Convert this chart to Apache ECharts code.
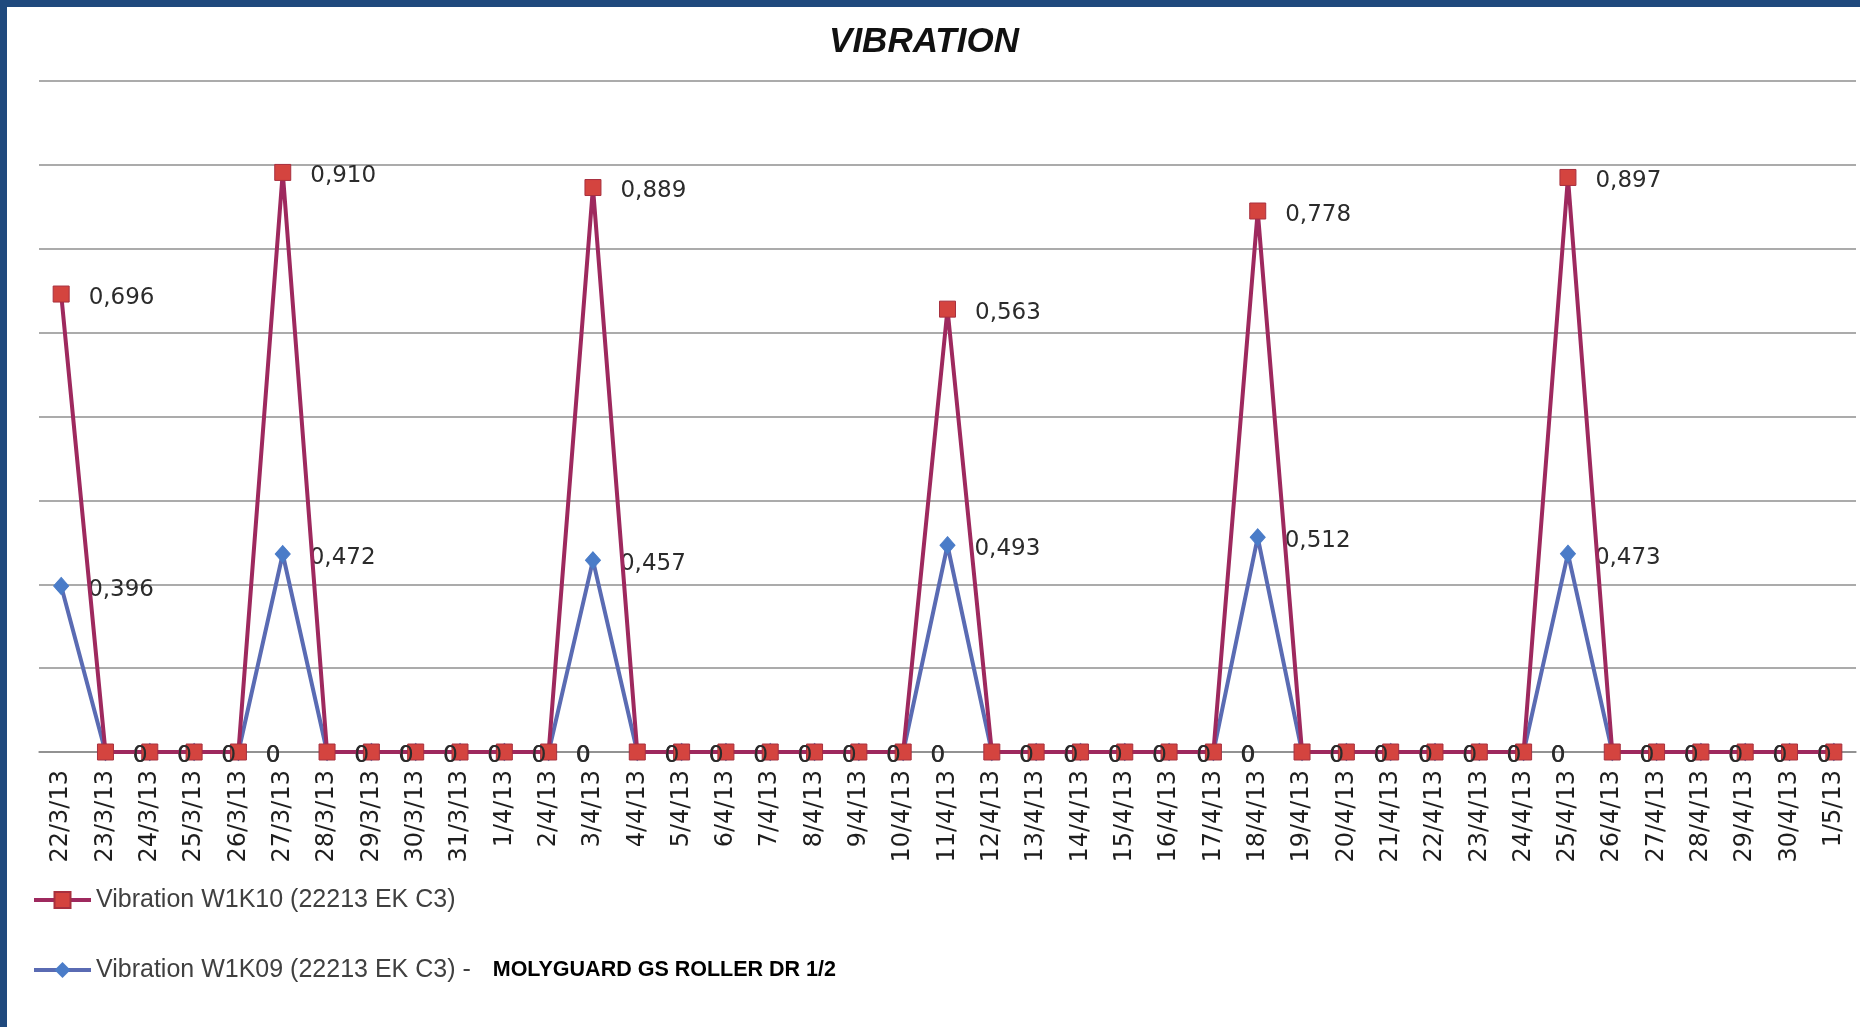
<!DOCTYPE html>
<html>
<head>
<meta charset="utf-8">
<script src="https://cdn.jsdelivr.net/npm/echarts@6/dist/echarts.min.js"></script>
<style>
  html, body { margin: 0; padding: 0; width: 1860px; height: 1027px; background: #1f497d; overflow: hidden; }
  #chart { position: absolute; left: 7px; top: 7px; width: 1853px; height: 1020px; background: #ffffff; }
</style>
</head>
<body>
<div id="chart"></div>
<script>
const categories = [
  '22/3/13','23/3/13','24/3/13','25/3/13','26/3/13','27/3/13','28/3/13','29/3/13','30/3/13','31/3/13',
  '1/4/13','2/4/13','3/4/13','4/4/13','5/4/13','6/4/13','7/4/13','8/4/13','9/4/13','10/4/13',
  '11/4/13','12/4/13','13/4/13','14/4/13','15/4/13','16/4/13','17/4/13','18/4/13','19/4/13','20/4/13',
  '21/4/13','22/4/13','23/4/13','24/4/13','25/4/13','26/4/13','27/4/13','28/4/13','29/4/13','30/4/13',
  '1/5/13'
];
// Vibration W1K10 (red, stacked on top of W1K09)
const w1k10 = [
  0.696,0,0,0,0,0.910,0,0,0,0,
  0,0,0.889,0,0,0,0,0,0,0,
  0.563,0,0,0,0,0,0,0.778,0,0,
  0,0,0,0,0.897,0,0,0,0,0,
  0
];
// Vibration W1K09 (blue)
const w1k09 = [
  0.396,0,0,0,0,0.472,0,0,0,0,
  0,0,0.457,0,0,0,0,0,0,0,
  0.493,0,0,0,0,0,0,0.512,0,0,
  0,0,0,0,0.473,0,0,0,0,0,
  0
];
const yMin = 0, yMax = 1.6, yInterval = 0.2;
const nameRed = 'Vibration W1K10 (22213 EK C3)';
const nameBlue = 'Vibration W1K09 (22213 EK C3) -';
const blueSuffix = 'MOLYGUARD GS ROLLER DR 1/2';

function fmt(p) {
  const v = p.value;
  if (v === 0) return '0';
  return v.toFixed(3).replace('.', ',');
}
const labelStyle = {
  show: true,
  position: 'right',
  distance: 19,
  offset: [0, 4],
  fontFamily: 'DejaVu Sans',
  fontSize: 23,
  color: '#2b2b2b',
  formatter: fmt
};

const chart = echarts.init(document.getElementById('chart'), null, { renderer: 'canvas' });
chart.setOption({
  animation: false,
  backgroundColor: '#ffffff',
  title: {
    text: 'VIBRATION',
    left: 912,
    textAlign: 'center',
    top: 13,
    textStyle: { fontFamily: 'Liberation Sans', fontStyle: 'italic', fontWeight: 'bold', fontSize: 35, color: '#111111' }
  },
  grid: { left: 32, right: 4, top: 74, bottom: 275, containLabel: false },
  legend: [
    {
      data: [nameRed], orient: 'vertical', left: 25, top: 879, padding: 0,
      itemWidth: 57, itemHeight: 20, itemGap: 5,
      lineStyle: { width: 4 },
      textStyle: { fontFamily: 'Liberation Sans', fontSize: 25, color: '#404040', lineHeight: 28 }
    },
    {
      data: [nameBlue], orient: 'vertical', left: 25, top: 949, padding: 0,
      itemWidth: 57, itemHeight: 20, itemGap: 5,
      lineStyle: { width: 4 },
      formatter: function (n) { return '{a|' + n + '}{b|' + blueSuffix + '}'; },
      textStyle: {
        fontFamily: 'Liberation Sans', fontSize: 25, color: '#404040', lineHeight: 28,
        rich: {
          a: { fontFamily: 'Liberation Sans', fontSize: 25, color: '#404040', lineHeight: 28 },
          b: { fontFamily: 'Liberation Sans', fontSize: 21.5, fontWeight: 'bold', color: '#000000', lineHeight: 28, padding: [0, 0, 0, 22] }
        }
      }
    }
  ],
  xAxis: {
    type: 'category',
    data: categories,
    boundaryGap: true,
    axisLine: { show: true, lineStyle: { color: '#8a8a8a', width: 1.5 } },
    axisTick: { show: false },
    axisLabel: {
      interval: 0, rotate: 90, margin: 18,
      fontFamily: 'DejaVu Sans', fontSize: 24, color: '#1e1e1e'
    },
    splitLine: { show: false }
  },
  yAxis: {
    type: 'value',
    min: yMin, max: yMax, interval: yInterval,
    axisLabel: { show: false },
    axisLine: { show: false },
    axisTick: { show: false },
    splitLine: { show: true, lineStyle: { color: '#ababab', width: 2 } }
  },
  series: [
    {
      name: nameBlue,
      type: 'line',
      stack: 'vib',
      data: w1k09,
      symbol: 'diamond',
      symbolSize: [15, 17],
      showAllSymbol: true,
      lineStyle: { color: '#5a6bb3', width: 4 },
      itemStyle: { color: '#4a7cc8', borderColor: '#4a7cc8' },
      label: labelStyle,
      z: 3
    },
    {
      name: nameRed,
      type: 'line',
      stack: 'vib',
      data: w1k10,
      symbol: 'rect',
      symbolSize: 16,
      showAllSymbol: true,
      lineStyle: { color: '#9e295e', width: 4 },
      itemStyle: { color: '#d4443f', borderColor: '#a8303f', borderWidth: 1 },
      label: labelStyle,
      z: 4
    }
  ]
});
</script>
</body>
</html>
